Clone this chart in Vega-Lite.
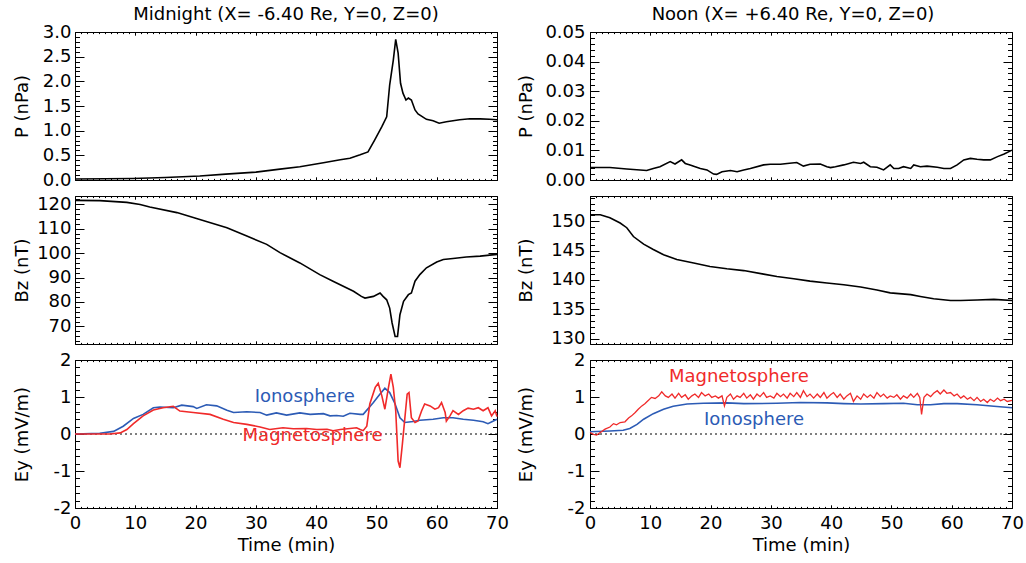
{
"$schema":"https://vega.github.io/schema/vega-lite/v6.json",
"autosize":{"type":"none"},
"padding":{"left":75,"top":32,"right":951,"bottom":531},
"background":"white",
"bounds":"flush",
"columns":2,
"spacing":{"row":16,"column":93},
"config":{
 "font":"DejaVu Sans",
 "view":{"stroke":"black","strokeWidth":1},
 "axis":{"domain":false,"grid":false,"ticks":true,"tickColor":"black","tickWidth":1,"labelColor":"black","labelFontSize":18,"labelFont":"DejaVu Sans","titleFont":"DejaVu Sans","titleFontSize":18,"titleFontWeight":"normal","titleColor":"black","labelOverlap":false,"labelFlush":false,"labelBound":false},
 "title":{"fontSize":18,"fontWeight":"normal","color":"black","font":"DejaVu Sans"}
},
"datasets":{
 "pL":[{"t":0,"v":0.02},{"t":5,"v":0.025},{"t":9.6,"v":0.03},{"t":15,"v":0.05},{"t":20.7,"v":0.08},{"t":25,"v":0.12},{"t":30,"v":0.16},{"t":34,"v":0.22},{"t":37.3,"v":0.27},{"t":41.2,"v":0.35},{"t":44,"v":0.41},{"t":45.6,"v":0.44},{"t":47.3,"v":0.51},{"t":48.6,"v":0.57},{"t":49.7,"v":0.81},{"t":50.9,"v":1.08},{"t":51.7,"v":1.28},{"t":52.2,"v":1.93},{"t":52.8,"v":2.43},{"t":53.2,"v":2.85},{"t":53.6,"v":2.57},{"t":54.0,"v":1.96},{"t":54.4,"v":1.76},{"t":54.9,"v":1.62},{"t":55.3,"v":1.66},{"t":55.8,"v":1.62},{"t":56.4,"v":1.42},{"t":56.9,"v":1.34},{"t":58.3,"v":1.23},{"t":59.4,"v":1.2},{"t":60.4,"v":1.15},{"t":61.6,"v":1.18},{"t":63.8,"v":1.22},{"t":65.5,"v":1.24},{"t":67.2,"v":1.24},{"t":68.8,"v":1.23},{"t":70,"v":1.22}],
 "pR":[{"t":0,"v":0.0042},{"t":3.3,"v":0.0042},{"t":6.1,"v":0.0037},{"t":9.4,"v":0.0032},{"t":10.5,"v":0.0039},{"t":11.6,"v":0.0045},{"t":13.3,"v":0.0062},{"t":14.1,"v":0.0054},{"t":15.2,"v":0.0068},{"t":15.8,"v":0.0056},{"t":16.6,"v":0.0051},{"t":18.3,"v":0.0039},{"t":19.4,"v":0.0034},{"t":20.5,"v":0.002},{"t":21.0,"v":0.0019},{"t":21.9,"v":0.0028},{"t":23.3,"v":0.0032},{"t":24.4,"v":0.0028},{"t":25.5,"v":0.0034},{"t":26.6,"v":0.0039},{"t":28.8,"v":0.0051},{"t":29.9,"v":0.0053},{"t":31.6,"v":0.0053},{"t":32.7,"v":0.0056},{"t":34.3,"v":0.0059},{"t":35.4,"v":0.0047},{"t":36.5,"v":0.0053},{"t":38.2,"v":0.0054},{"t":39.3,"v":0.0045},{"t":39.9,"v":0.0042},{"t":40.7,"v":0.0045},{"t":42.1,"v":0.0051},{"t":43.7,"v":0.006},{"t":44.9,"v":0.0056},{"t":45.4,"v":0.006},{"t":46.5,"v":0.0045},{"t":47.6,"v":0.0043},{"t":48.7,"v":0.0034},{"t":49.8,"v":0.0051},{"t":50.4,"v":0.0039},{"t":51.2,"v":0.0039},{"t":52.0,"v":0.0045},{"t":53.2,"v":0.0039},{"t":53.7,"v":0.0051},{"t":54.8,"v":0.0045},{"t":55.9,"v":0.0047},{"t":57.6,"v":0.0043},{"t":58.7,"v":0.0039},{"t":59.8,"v":0.0039},{"t":60.9,"v":0.0051},{"t":62.0,"v":0.0068},{"t":63.1,"v":0.0073},{"t":64.2,"v":0.007},{"t":65.3,"v":0.0068},{"t":66.4,"v":0.0068},{"t":67.6,"v":0.0079},{"t":68.7,"v":0.0088},{"t":70,"v":0.0101}],
 "bL":[{"t":0,"v":121.6},{"t":4.1,"v":121.5},{"t":8.6,"v":120.8},{"t":10.8,"v":119.9},{"t":12.4,"v":118.9},{"t":16.9,"v":116.6},{"t":20.7,"v":113.8},{"t":25.2,"v":110.4},{"t":28.5,"v":107.0},{"t":31.8,"v":103.6},{"t":34.0,"v":100.2},{"t":37.3,"v":96.0},{"t":40.6,"v":91.2},{"t":42.8,"v":88.5},{"t":46.2,"v":84.4},{"t":47.5,"v":82.3},{"t":48.1,"v":81.6},{"t":49.5,"v":82.3},{"t":50.6,"v":83.7},{"t":51.1,"v":82.3},{"t":51.7,"v":80.9},{"t":52.2,"v":77.5},{"t":52.6,"v":71.4},{"t":53.1,"v":65.9},{"t":53.5,"v":65.9},{"t":53.9,"v":74.8},{"t":54.5,"v":80.3},{"t":55.3,"v":83.0},{"t":55.8,"v":83.7},{"t":56.4,"v":88.5},{"t":57.2,"v":91.2},{"t":58.3,"v":94.0},{"t":60.0,"v":96.4},{"t":61.1,"v":97.4},{"t":62.7,"v":97.8},{"t":64.9,"v":98.4},{"t":67.2,"v":98.8},{"t":70,"v":99.5}],
 "bR":[{"t":0,"v":151.1},{"t":1.7,"v":151.1},{"t":3.3,"v":150.6},{"t":5.0,"v":149.7},{"t":6.1,"v":148.9},{"t":7.2,"v":147.4},{"t":8.9,"v":146.1},{"t":10.5,"v":145.2},{"t":12.2,"v":144.3},{"t":14.4,"v":143.5},{"t":17.2,"v":142.9},{"t":19.9,"v":142.3},{"t":22.7,"v":141.9},{"t":25.5,"v":141.6},{"t":28.8,"v":141.0},{"t":31.0,"v":140.6},{"t":33.8,"v":140.2},{"t":36.5,"v":139.8},{"t":39.3,"v":139.5},{"t":42.1,"v":139.2},{"t":44.9,"v":138.8},{"t":47.6,"v":138.3},{"t":49.8,"v":137.8},{"t":53.2,"v":137.5},{"t":54.8,"v":137.2},{"t":57.0,"v":136.8},{"t":59.8,"v":136.5},{"t":61.5,"v":136.5},{"t":64.2,"v":136.6},{"t":67.0,"v":136.7},{"t":70,"v":136.5}],
 "eLi":[{"t":0,"v":0.0},{"t":4.1,"v":0.02},{"t":6.4,"v":0.07},{"t":8.0,"v":0.21},{"t":9.7,"v":0.42},{"t":11.3,"v":0.53},{"t":13.0,"v":0.71},{"t":14.1,"v":0.73},{"t":16.3,"v":0.71},{"t":17.7,"v":0.78},{"t":19.6,"v":0.74},{"t":20.2,"v":0.69},{"t":21.8,"v":0.79},{"t":23.5,"v":0.76},{"t":25.2,"v":0.64},{"t":26.3,"v":0.58},{"t":28.5,"v":0.6},{"t":30.7,"v":0.58},{"t":31.8,"v":0.51},{"t":33.4,"v":0.57},{"t":35.1,"v":0.51},{"t":37.3,"v":0.57},{"t":39.0,"v":0.53},{"t":41.2,"v":0.55},{"t":42.3,"v":0.49},{"t":43.4,"v":0.5},{"t":44.5,"v":0.48},{"t":45.6,"v":0.56},{"t":47.3,"v":0.53},{"t":47.8,"v":0.53},{"t":49.5,"v":0.85},{"t":50.6,"v":1.08},{"t":51.4,"v":1.24},{"t":52.2,"v":1.12},{"t":53.1,"v":0.81},{"t":53.9,"v":0.44},{"t":54.7,"v":0.31},{"t":56.1,"v":0.34},{"t":57.2,"v":0.37},{"t":59.4,"v":0.4},{"t":61.1,"v":0.44},{"t":62.7,"v":0.44},{"t":64.4,"v":0.4},{"t":66.1,"v":0.37},{"t":67.7,"v":0.33},{"t":68.5,"v":0.28},{"t":69.4,"v":0.35},{"t":70,"v":0.4}],
 "eLm":[{"t":0,"v":0},{"t":5.8,"v":0},{"t":7.5,"v":0.03},{"t":8.6,"v":0.12},{"t":9.7,"v":0.28},{"t":11.3,"v":0.49},{"t":13.0,"v":0.65},{"t":14.6,"v":0.71},{"t":16.3,"v":0.75},{"t":17.4,"v":0.62},{"t":19.6,"v":0.58},{"t":22.4,"v":0.53},{"t":24.6,"v":0.4},{"t":26.3,"v":0.31},{"t":28.5,"v":0.26},{"t":30.7,"v":0.19},{"t":32.3,"v":0.12},{"t":34.5,"v":0.17},{"t":36.2,"v":0.14},{"t":38.4,"v":0.15},{"t":40.1,"v":0.12},{"t":41.8,"v":0.13},{"t":42.8,"v":0.09},{"t":44.0,"v":0.12},{"t":45.6,"v":0.15},{"t":46.7,"v":0.17},{"t":47.3,"v":0.12},{"t":47.8,"v":0.09},{"t":48.4,"v":0.21},{"t":48.9,"v":0.81},{"t":49.8,"v":1.26},{"t":50.3,"v":1.37},{"t":50.9,"v":1.03},{"t":51.4,"v":0.67},{"t":52.0,"v":1.26},{"t":52.4,"v":1.62},{"t":52.8,"v":1.26},{"t":53.2,"v":0.63},{"t":53.6,"v":-0.73},{"t":53.9,"v":-0.91},{"t":54.3,"v":-0.28},{"t":54.7,"v":0.4},{"t":55.1,"v":1.08},{"t":55.4,"v":1.12},{"t":55.8,"v":0.44},{"t":56.4,"v":0.31},{"t":56.9,"v":0.35},{"t":57.5,"v":0.63},{"t":58.0,"v":0.81},{"t":58.9,"v":0.76},{"t":59.7,"v":0.67},{"t":60.3,"v":0.71},{"t":60.8,"v":0.85},{"t":61.4,"v":0.58},{"t":61.6,"v":0.35},{"t":62.2,"v":0.49},{"t":62.7,"v":0.63},{"t":63.6,"v":0.53},{"t":64.4,"v":0.63},{"t":65.2,"v":0.7},{"t":66.1,"v":0.67},{"t":66.9,"v":0.71},{"t":67.7,"v":0.63},{"t":68.5,"v":0.71},{"t":69.1,"v":0.49},{"t":69.7,"v":0.63},{"t":70,"v":0.47}],
 "eRi":[{"t":0,"v":0.06},{"t":3.3,"v":0.08},{"t":5.5,"v":0.1},{"t":6.6,"v":0.15},{"t":7.8,"v":0.26},{"t":8.9,"v":0.4},{"t":10.5,"v":0.55},{"t":12.2,"v":0.67},{"t":13.8,"v":0.75},{"t":16.1,"v":0.81},{"t":18.8,"v":0.83},{"t":22.7,"v":0.84},{"t":25.5,"v":0.82},{"t":31.0,"v":0.83},{"t":34.9,"v":0.85},{"t":39.3,"v":0.84},{"t":42.1,"v":0.82},{"t":44.9,"v":0.81},{"t":48.7,"v":0.82},{"t":52.0,"v":0.83},{"t":54.3,"v":0.79},{"t":56.5,"v":0.79},{"t":58.7,"v":0.82},{"t":60.9,"v":0.82},{"t":64.2,"v":0.79},{"t":67.0,"v":0.75},{"t":70,"v":0.71}],
 "eRm":[{"t":0,"v":0.04},{"t":0.6,"v":-0.01},{"t":1.1,"v":-0.03},{"t":1.7,"v":0.04},{"t":2.5,"v":0.13},{"t":3.3,"v":0.19},{"t":3.9,"v":0.28},{"t":4.4,"v":0.25},{"t":5.0,"v":0.31},{"t":5.8,"v":0.33},{"t":6.4,"v":0.43},{"t":6.9,"v":0.49},{"t":7.5,"v":0.58},{"t":8.0,"v":0.67},{"t":8.6,"v":0.76},{"t":9.1,"v":0.82},{"t":9.7,"v":0.91},{"t":10.2,"v":0.99},{"t":10.8,"v":0.96},{"t":11.4,"v":1.03},{"t":11.9,"v":1.14},{"t":12.5,"v":1.03},{"t":13.0,"v":0.99},{"t":13.6,"v":1.08},{"t":14.1,"v":0.97},{"t":14.7,"v":1.1},{"t":15.2,"v":0.99},{"t":15.8,"v":1.06},{"t":16.3,"v":0.94},{"t":16.9,"v":1.03},{"t":17.4,"v":1.08},{"t":18.0,"v":0.99},{"t":18.5,"v":1.12},{"t":19.1,"v":1.03},{"t":19.7,"v":1.08},{"t":20.2,"v":0.99},{"t":20.8,"v":1.03},{"t":21.3,"v":0.97},{"t":21.9,"v":1.03},{"t":22.3,"v":0.76},{"t":22.7,"v":0.99},{"t":23.3,"v":1.08},{"t":23.8,"v":0.94},{"t":24.4,"v":1.03},{"t":24.9,"v":0.99},{"t":25.5,"v":1.1},{"t":26.0,"v":0.97},{"t":26.6,"v":1.06},{"t":27.1,"v":0.94},{"t":27.7,"v":1.08},{"t":28.2,"v":1.01},{"t":28.8,"v":1.12},{"t":29.3,"v":0.99},{"t":29.9,"v":1.03},{"t":30.5,"v":0.97},{"t":31.0,"v":1.1},{"t":31.6,"v":1.01},{"t":32.1,"v":1.08},{"t":32.7,"v":0.97},{"t":33.2,"v":1.1},{"t":33.8,"v":1.01},{"t":34.3,"v":1.12},{"t":34.9,"v":0.99},{"t":35.4,"v":1.17},{"t":36.0,"v":1.01},{"t":36.5,"v":1.08},{"t":37.1,"v":0.97},{"t":37.7,"v":1.08},{"t":38.2,"v":0.99},{"t":38.8,"v":1.12},{"t":39.3,"v":0.97},{"t":39.9,"v":1.06},{"t":40.4,"v":1.12},{"t":41.0,"v":0.99},{"t":41.5,"v":1.08},{"t":42.1,"v":0.94},{"t":42.6,"v":1.03},{"t":43.2,"v":1.1},{"t":43.7,"v":0.88},{"t":44.3,"v":1.03},{"t":44.9,"v":0.94},{"t":45.4,"v":1.08},{"t":46.0,"v":0.99},{"t":46.5,"v":1.06},{"t":47.1,"v":0.97},{"t":47.6,"v":1.12},{"t":48.2,"v":1.01},{"t":48.7,"v":1.08},{"t":49.3,"v":0.97},{"t":49.8,"v":1.03},{"t":50.4,"v":0.99},{"t":50.9,"v":1.06},{"t":51.5,"v":0.94},{"t":52.0,"v":1.03},{"t":52.6,"v":0.97},{"t":53.2,"v":1.08},{"t":53.7,"v":0.99},{"t":54.3,"v":1.1},{"t":54.7,"v":0.99},{"t":55.0,"v":0.53},{"t":55.4,"v":0.99},{"t":55.9,"v":1.08},{"t":56.5,"v":1.01},{"t":57.0,"v":1.1},{"t":57.6,"v":1.17},{"t":58.1,"v":1.08},{"t":58.7,"v":1.19},{"t":59.2,"v":1.1},{"t":59.8,"v":1.12},{"t":60.4,"v":1.03},{"t":60.9,"v":1.08},{"t":61.5,"v":0.97},{"t":62.0,"v":1.03},{"t":62.6,"v":0.94},{"t":63.1,"v":0.99},{"t":63.7,"v":0.9},{"t":64.2,"v":0.99},{"t":64.8,"v":0.88},{"t":65.3,"v":0.94},{"t":65.9,"v":0.85},{"t":66.4,"v":0.94},{"t":67.0,"v":0.88},{"t":67.6,"v":0.97},{"t":68.1,"v":0.9},{"t":68.7,"v":0.94},{"t":69.2,"v":0.88},{"t":70,"v":0.91}],
 "labL":[{"t":38.1,"v":0.99,"label":"Ionosphere"},{"t":39.4,"v":-0.06,"label":"Magnetosphere"}],
 "labR":[{"t":27.2,"v":0.39,"label":"Ionosphere"},{"t":24.7,"v":1.53,"label":"Magnetosphere"}],
 "zero":[{"v":0}]
},
"concat":[
 {"width":422,"height":148,
  "title":{"text":"Midnight (X= -6.40 Re, Y=0, Z=0)","anchor":"middle","baseline":"alphabetic","offset":-15},
  "data":{"name":"pL"},
  "layer":[
   {"mark":{"type":"line","color":"black","strokeWidth":1.6},
    "encoding":{"x":{"field":"t","type":"quantitative","scale":{"domain":[0,70],"nice":false,"zero":false},"axis":{"orient":"bottom","values":[0,10,20,30,40,50,60,70],"tickSize":-3.2,"labels":false,"title":null}},
     "y":{"field":"v","type":"quantitative","scale":{"domain":[0,3],"nice":false,"zero":false},"axis":{"orient":"left","values":[0,0.5,1,1.5,2,2.5,3],"format":".1f","tickSize":-9,"labelPadding":13,"title":"P (nPa)","titleX":-53,"titleY":74,"titleAngle":-90,"titleAlign":"center","titleBaseline":"middle"}}}},
   {"mark":{"type":"point","opacity":0},
    "encoding":{"x":{"field":"t","type":"quantitative","axis":{"orient":"bottom","values":[0,1,2,3,4,5,6,7,8,9,10,11,12,13,14,15,16,17,18,19,20,21,22,23,24,25,26,27,28,29,30,31,32,33,34,35,36,37,38,39,40,41,42,43,44,45,46,47,48,49,50,51,52,53,54,55,56,57,58,59,60,61,62,63,64,65,66,67,68,69,70],"tickSize":-1.6,"labels":false,"title":null}},
     "y":{"field":"v","type":"quantitative","axis":{"orient":"left","values":[0.1,0.2,0.3,0.4,0.6,0.7,0.8,0.9,1.1,1.2,1.3,1.4,1.6,1.7,1.8,1.9,2.1,2.2,2.3,2.4,2.6,2.7,2.8,2.9],"tickSize":-4.5,"labels":false,"title":null}}}},
   {"mark":{"type":"point","opacity":0},
    "encoding":{"x":{"field":"t","type":"quantitative","axis":{"orient":"top","values":[0,10,20,30,40,50,60,70],"tickSize":-3.2,"labels":false,"title":null}},
     "y":{"field":"v","type":"quantitative","axis":{"orient":"right","values":[0,0.5,1,1.5,2,2.5,3],"tickSize":-9,"labels":false,"title":null}}}},
   {"mark":{"type":"point","opacity":0},
    "encoding":{"x":{"field":"t","type":"quantitative","axis":{"orient":"top","values":[0,1,2,3,4,5,6,7,8,9,10,11,12,13,14,15,16,17,18,19,20,21,22,23,24,25,26,27,28,29,30,31,32,33,34,35,36,37,38,39,40,41,42,43,44,45,46,47,48,49,50,51,52,53,54,55,56,57,58,59,60,61,62,63,64,65,66,67,68,69,70],"tickSize":-1.6,"labels":false,"title":null}},
     "y":{"field":"v","type":"quantitative","axis":{"orient":"right","values":[0.1,0.2,0.3,0.4,0.6,0.7,0.8,0.9,1.1,1.2,1.3,1.4,1.6,1.7,1.8,1.9,2.1,2.2,2.3,2.4,2.6,2.7,2.8,2.9],"tickSize":-4.5,"labels":false,"title":null}}}}
  ],
  "resolve":{"axis":{"x":"independent","y":"independent"}}
 },
 {"width":422,"height":148,
  "title":{"text":"Noon (X= +6.40 Re, Y=0, Z=0)","anchor":"middle","baseline":"alphabetic","offset":-15,"dx":-8},
  "data":{"name":"pR"},
  "layer":[
   {"mark":{"type":"line","color":"black","strokeWidth":1.6},
    "encoding":{"x":{"field":"t","type":"quantitative","scale":{"domain":[0,70],"nice":false,"zero":false},"axis":{"orient":"bottom","values":[0,10,20,30,40,50,60,70],"tickSize":-3.2,"labels":false,"title":null}},
     "y":{"field":"v","type":"quantitative","scale":{"domain":[0,0.05],"nice":false,"zero":false},"axis":{"orient":"left","values":[0,0.01,0.02,0.03,0.04,0.05],"format":".2f","tickSize":-9,"labelPadding":14,"title":"P (nPa)","titleX":-64,"titleY":74,"titleAngle":-90,"titleAlign":"center","titleBaseline":"middle"}}}},
   {"mark":{"type":"point","opacity":0},
    "encoding":{"x":{"field":"t","type":"quantitative","axis":{"orient":"bottom","values":[0,1,2,3,4,5,6,7,8,9,10,11,12,13,14,15,16,17,18,19,20,21,22,23,24,25,26,27,28,29,30,31,32,33,34,35,36,37,38,39,40,41,42,43,44,45,46,47,48,49,50,51,52,53,54,55,56,57,58,59,60,61,62,63,64,65,66,67,68,69,70],"tickSize":-1.6,"labels":false,"title":null}},
     "y":{"field":"v","type":"quantitative","axis":{"orient":"left","values":[0.002,0.004,0.006,0.008,0.012,0.014,0.016,0.018,0.022,0.024,0.026,0.028,0.032,0.034,0.036,0.038,0.042,0.044,0.046,0.048],"tickSize":-4.5,"labels":false,"title":null}}}},
   {"mark":{"type":"point","opacity":0},
    "encoding":{"x":{"field":"t","type":"quantitative","axis":{"orient":"top","values":[0,10,20,30,40,50,60,70],"tickSize":-3.2,"labels":false,"title":null}},
     "y":{"field":"v","type":"quantitative","axis":{"orient":"right","values":[0,0.01,0.02,0.03,0.04,0.05],"tickSize":-9,"labels":false,"title":null}}}},
   {"mark":{"type":"point","opacity":0},
    "encoding":{"x":{"field":"t","type":"quantitative","axis":{"orient":"top","values":[0,1,2,3,4,5,6,7,8,9,10,11,12,13,14,15,16,17,18,19,20,21,22,23,24,25,26,27,28,29,30,31,32,33,34,35,36,37,38,39,40,41,42,43,44,45,46,47,48,49,50,51,52,53,54,55,56,57,58,59,60,61,62,63,64,65,66,67,68,69,70],"tickSize":-1.6,"labels":false,"title":null}},
     "y":{"field":"v","type":"quantitative","axis":{"orient":"right","values":[0.002,0.004,0.006,0.008,0.012,0.014,0.016,0.018,0.022,0.024,0.026,0.028,0.032,0.034,0.036,0.038,0.042,0.044,0.046,0.048],"tickSize":-4.5,"labels":false,"title":null}}}}
  ],
  "resolve":{"axis":{"x":"independent","y":"independent"}}
 },
 {"width":422,"height":148,
  "data":{"name":"bL"},
  "layer":[
   {"mark":{"type":"line","color":"black","strokeWidth":1.6},
    "encoding":{"x":{"field":"t","type":"quantitative","scale":{"domain":[0,70],"nice":false,"zero":false},"axis":{"orient":"bottom","values":[0,10,20,30,40,50,60,70],"tickSize":-3.2,"labels":false,"title":null}},
     "y":{"field":"v","type":"quantitative","scale":{"domain":[62.8,123.4],"nice":false,"zero":false},"axis":{"orient":"left","values":[70,80,90,100,110,120],"format":"d","tickSize":-9,"labelPadding":13,"title":"Bz (nT)","titleX":-53,"titleY":74,"titleAngle":-90,"titleAlign":"center","titleBaseline":"middle"}}}},
   {"mark":{"type":"point","opacity":0},
    "encoding":{"x":{"field":"t","type":"quantitative","axis":{"orient":"bottom","values":[0,1,2,3,4,5,6,7,8,9,10,11,12,13,14,15,16,17,18,19,20,21,22,23,24,25,26,27,28,29,30,31,32,33,34,35,36,37,38,39,40,41,42,43,44,45,46,47,48,49,50,51,52,53,54,55,56,57,58,59,60,61,62,63,64,65,66,67,68,69,70],"tickSize":-1.6,"labels":false,"title":null}},
     "y":{"field":"v","type":"quantitative","axis":{"orient":"left","values":[64,66,68,72,74,76,78,82,84,86,88,92,94,96,98,102,104,106,108,112,114,116,118,122],"tickSize":-4.5,"labels":false,"title":null}}}},
   {"mark":{"type":"point","opacity":0},
    "encoding":{"x":{"field":"t","type":"quantitative","axis":{"orient":"top","values":[0,10,20,30,40,50,60,70],"tickSize":-3.2,"labels":false,"title":null}},
     "y":{"field":"v","type":"quantitative","axis":{"orient":"right","values":[70,80,90,100,110,120],"tickSize":-9,"labels":false,"title":null}}}},
   {"mark":{"type":"point","opacity":0},
    "encoding":{"x":{"field":"t","type":"quantitative","axis":{"orient":"top","values":[0,1,2,3,4,5,6,7,8,9,10,11,12,13,14,15,16,17,18,19,20,21,22,23,24,25,26,27,28,29,30,31,32,33,34,35,36,37,38,39,40,41,42,43,44,45,46,47,48,49,50,51,52,53,54,55,56,57,58,59,60,61,62,63,64,65,66,67,68,69,70],"tickSize":-1.6,"labels":false,"title":null}},
     "y":{"field":"v","type":"quantitative","axis":{"orient":"right","values":[64,66,68,72,74,76,78,82,84,86,88,92,94,96,98,102,104,106,108,112,114,116,118,122],"tickSize":-4.5,"labels":false,"title":null}}}}
  ],
  "resolve":{"axis":{"x":"independent","y":"independent"}}
 },
 {"width":422,"height":148,
  "data":{"name":"bR"},
  "layer":[
   {"mark":{"type":"line","color":"black","strokeWidth":1.6},
    "encoding":{"x":{"field":"t","type":"quantitative","scale":{"domain":[0,70],"nice":false,"zero":false},"axis":{"orient":"bottom","values":[0,10,20,30,40,50,60,70],"tickSize":-3.2,"labels":false,"title":null}},
     "y":{"field":"v","type":"quantitative","scale":{"domain":[129.1,154.3],"nice":false,"zero":false},"axis":{"orient":"left","values":[130,135,140,145,150],"format":"d","tickSize":-9,"labelPadding":14,"title":"Bz (nT)","titleX":-64,"titleY":74,"titleAngle":-90,"titleAlign":"center","titleBaseline":"middle"}}}},
   {"mark":{"type":"point","opacity":0},
    "encoding":{"x":{"field":"t","type":"quantitative","axis":{"orient":"bottom","values":[0,1,2,3,4,5,6,7,8,9,10,11,12,13,14,15,16,17,18,19,20,21,22,23,24,25,26,27,28,29,30,31,32,33,34,35,36,37,38,39,40,41,42,43,44,45,46,47,48,49,50,51,52,53,54,55,56,57,58,59,60,61,62,63,64,65,66,67,68,69,70],"tickSize":-1.6,"labels":false,"title":null}},
     "y":{"field":"v","type":"quantitative","axis":{"orient":"left","values":[130,131,132,133,134,136,137,138,139,141,142,143,144,146,147,148,149,151,152,153,154],"tickSize":-4.5,"labels":false,"title":null}}}},
   {"mark":{"type":"point","opacity":0},
    "encoding":{"x":{"field":"t","type":"quantitative","axis":{"orient":"top","values":[0,10,20,30,40,50,60,70],"tickSize":-3.2,"labels":false,"title":null}},
     "y":{"field":"v","type":"quantitative","axis":{"orient":"right","values":[130,135,140,145,150],"tickSize":-9,"labels":false,"title":null}}}},
   {"mark":{"type":"point","opacity":0},
    "encoding":{"x":{"field":"t","type":"quantitative","axis":{"orient":"top","values":[0,1,2,3,4,5,6,7,8,9,10,11,12,13,14,15,16,17,18,19,20,21,22,23,24,25,26,27,28,29,30,31,32,33,34,35,36,37,38,39,40,41,42,43,44,45,46,47,48,49,50,51,52,53,54,55,56,57,58,59,60,61,62,63,64,65,66,67,68,69,70],"tickSize":-1.6,"labels":false,"title":null}},
     "y":{"field":"v","type":"quantitative","axis":{"orient":"right","values":[130,131,132,133,134,136,137,138,139,141,142,143,144,146,147,148,149,151,152,153,154],"tickSize":-4.5,"labels":false,"title":null}}}}
  ],
  "resolve":{"axis":{"x":"independent","y":"independent"}}
 },
 {"width":422,"height":148,
  "data":{"name":"eLi"},
  "layer":[
   {"data":{"name":"zero"},"mark":{"type":"rule","color":"black","strokeWidth":1,"strokeDash":[2,3]},
    "encoding":{"y":{"field":"v","type":"quantitative","axis":null}}},
   {"mark":{"type":"line","color":"#2c5bb5","strokeWidth":1.6},
    "encoding":{"x":{"field":"t","type":"quantitative","scale":{"domain":[0,70],"nice":false,"zero":false},"axis":{"orient":"bottom","values":[0,10,20,30,40,50,60,70],"tickSize":-3.2,"labelPadding":24,"labelBaseline":"alphabetic","title":"Time (min)","titleY":42,"titleBaseline":"alphabetic","titleAlign":"center","titleX":211}},
     "y":{"field":"v","type":"quantitative","scale":{"domain":[-2,2],"nice":false,"zero":false},"axis":{"orient":"left","values":[-2,-1,0,1,2],"labelExpr":"toString(datum.value)","tickSize":-9,"labelPadding":13,"title":"Ey (mV/m)","titleX":-53,"titleY":74,"titleAngle":-90,"titleAlign":"center","titleBaseline":"middle"}}}},
   {"data":{"name":"eLm"},"mark":{"type":"line","color":"#f02a2a","strokeWidth":1.6},
    "encoding":{"x":{"field":"t","type":"quantitative","axis":{"orient":"bottom","values":[0,1,2,3,4,5,6,7,8,9,10,11,12,13,14,15,16,17,18,19,20,21,22,23,24,25,26,27,28,29,30,31,32,33,34,35,36,37,38,39,40,41,42,43,44,45,46,47,48,49,50,51,52,53,54,55,56,57,58,59,60,61,62,63,64,65,66,67,68,69,70],"tickSize":-1.6,"labels":false,"title":null}},
     "y":{"field":"v","type":"quantitative","axis":{"orient":"left","values":[-1.8,-1.6,-1.4,-1.2,-0.8,-0.6,-0.4,-0.2,0.2,0.4,0.6,0.8,1.2,1.4,1.6,1.8],"tickSize":-4.5,"labels":false,"title":null}}}},
   {"data":{"name":"labL"},"mark":{"type":"text","fontSize":18,"font":"DejaVu Sans","baseline":"middle","align":"center"},
    "encoding":{"x":{"field":"t","type":"quantitative","axis":{"orient":"top","values":[0,10,20,30,40,50,60,70],"tickSize":-3.2,"labels":false,"title":null}},
     "y":{"field":"v","type":"quantitative","axis":{"orient":"right","values":[-2,-1,0,1,2],"tickSize":-9,"labels":false,"title":null}},
     "text":{"field":"label"},
     "color":{"field":"label","type":"nominal","scale":{"domain":["Ionosphere","Magnetosphere"],"range":["#2c5bb5","#f02a2a"]},"legend":null}}},
   {"mark":{"type":"point","opacity":0},
    "encoding":{"x":{"field":"t","type":"quantitative","axis":{"orient":"top","values":[0,1,2,3,4,5,6,7,8,9,10,11,12,13,14,15,16,17,18,19,20,21,22,23,24,25,26,27,28,29,30,31,32,33,34,35,36,37,38,39,40,41,42,43,44,45,46,47,48,49,50,51,52,53,54,55,56,57,58,59,60,61,62,63,64,65,66,67,68,69,70],"tickSize":-1.6,"labels":false,"title":null}},
     "y":{"field":"v","type":"quantitative","axis":{"orient":"right","values":[-1.8,-1.6,-1.4,-1.2,-0.8,-0.6,-0.4,-0.2,0.2,0.4,0.6,0.8,1.2,1.4,1.6,1.8],"tickSize":-4.5,"labels":false,"title":null}}}}
  ],
  "resolve":{"axis":{"x":"independent","y":"independent"}}
 },
 {"width":422,"height":148,
  "data":{"name":"eRi"},
  "layer":[
   {"data":{"name":"zero"},"mark":{"type":"rule","color":"black","strokeWidth":1,"strokeDash":[2,3]},
    "encoding":{"y":{"field":"v","type":"quantitative","axis":null}}},
   {"mark":{"type":"line","color":"#2c5bb5","strokeWidth":1.6},
    "encoding":{"x":{"field":"t","type":"quantitative","scale":{"domain":[0,70],"nice":false,"zero":false},"axis":{"orient":"bottom","values":[0,10,20,30,40,50,60,70],"tickSize":-3.2,"labelPadding":24,"labelBaseline":"alphabetic","title":"Time (min)","titleY":42,"titleBaseline":"alphabetic","titleAlign":"center","titleX":211}},
     "y":{"field":"v","type":"quantitative","scale":{"domain":[-2,2],"nice":false,"zero":false},"axis":{"orient":"left","values":[-2,-1,0,1,2],"labelExpr":"toString(datum.value)","tickSize":-9,"labelPadding":14,"title":"Ey (mV/m)","titleX":-64,"titleY":74,"titleAngle":-90,"titleAlign":"center","titleBaseline":"middle"}}}},
   {"data":{"name":"eRm"},"mark":{"type":"line","color":"#f02a2a","strokeWidth":1.3},
    "encoding":{"x":{"field":"t","type":"quantitative","axis":{"orient":"bottom","values":[0,1,2,3,4,5,6,7,8,9,10,11,12,13,14,15,16,17,18,19,20,21,22,23,24,25,26,27,28,29,30,31,32,33,34,35,36,37,38,39,40,41,42,43,44,45,46,47,48,49,50,51,52,53,54,55,56,57,58,59,60,61,62,63,64,65,66,67,68,69,70],"tickSize":-1.6,"labels":false,"title":null}},
     "y":{"field":"v","type":"quantitative","axis":{"orient":"left","values":[-1.8,-1.6,-1.4,-1.2,-0.8,-0.6,-0.4,-0.2,0.2,0.4,0.6,0.8,1.2,1.4,1.6,1.8],"tickSize":-4.5,"labels":false,"title":null}}}},
   {"data":{"name":"labR"},"mark":{"type":"text","fontSize":18,"font":"DejaVu Sans","baseline":"middle","align":"center"},
    "encoding":{"x":{"field":"t","type":"quantitative","axis":{"orient":"top","values":[0,10,20,30,40,50,60,70],"tickSize":-3.2,"labels":false,"title":null}},
     "y":{"field":"v","type":"quantitative","axis":{"orient":"right","values":[-2,-1,0,1,2],"tickSize":-9,"labels":false,"title":null}},
     "text":{"field":"label"},
     "color":{"field":"label","type":"nominal","scale":{"domain":["Ionosphere","Magnetosphere"],"range":["#2c5bb5","#f02a2a"]},"legend":null}}},
   {"mark":{"type":"point","opacity":0},
    "encoding":{"x":{"field":"t","type":"quantitative","axis":{"orient":"top","values":[0,1,2,3,4,5,6,7,8,9,10,11,12,13,14,15,16,17,18,19,20,21,22,23,24,25,26,27,28,29,30,31,32,33,34,35,36,37,38,39,40,41,42,43,44,45,46,47,48,49,50,51,52,53,54,55,56,57,58,59,60,61,62,63,64,65,66,67,68,69,70],"tickSize":-1.6,"labels":false,"title":null}},
     "y":{"field":"v","type":"quantitative","axis":{"orient":"right","values":[-1.8,-1.6,-1.4,-1.2,-0.8,-0.6,-0.4,-0.2,0.2,0.4,0.6,0.8,1.2,1.4,1.6,1.8],"tickSize":-4.5,"labels":false,"title":null}}}}
  ],
  "resolve":{"axis":{"x":"independent","y":"independent"}}
 }
]
}
